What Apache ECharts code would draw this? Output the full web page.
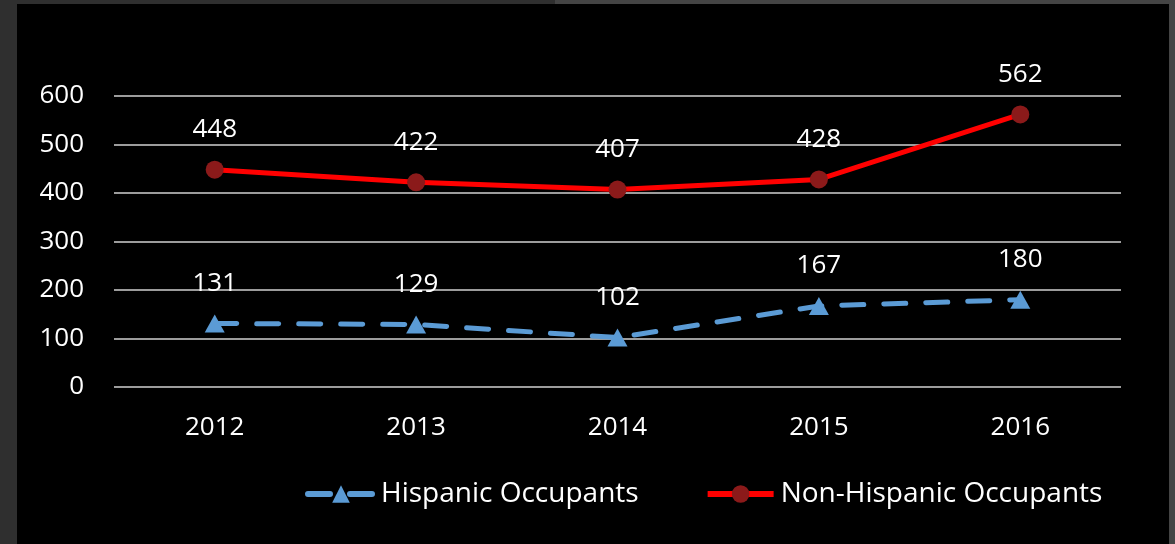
<!DOCTYPE html>
<html><head><meta charset="utf-8">
<script src="https://cdn.jsdelivr.net/npm/echarts@6/dist/echarts.min.js"></script>
<style>html,body{margin:0;padding:0;background:#000;}#c{width:1175px;height:544px;}</style>
</head><body><div id="c"></div>
<script>
const years = ['2012','2013','2014','2015','2016'];
const hispanic = [131,129,102,167,180];
const nonHispanic = [448,422,407,428,562];
const yTicks = {min:0, max:600, interval:100};
const FONT = 'Open Sans';
const FS = 26;
const chart = echarts.init(document.getElementById('c'));
chart.setOption({
  backgroundColor:'#000',
  animation:false,
  textStyle:{fontFamily:FONT},
  graphic:[
    {type:'rect',shape:{x:0,y:0,width:17,height:544},style:{fill:'#2f2f2f'},silent:true},
    {type:'rect',shape:{x:0,y:0,width:555,height:4},style:{fill:'#2f2f2f'},silent:true},
    {type:'rect',shape:{x:555,y:0,width:620,height:4},style:{fill:'#444'},silent:true},
    {type:'rect',shape:{x:1169,y:0,width:6,height:544},style:{fill:'#444'},silent:true}
  ],
  grid:{left:114,right:54,top:96,bottom:157,containLabel:false},
  legend:{
    left:300, top:475, itemWidth:66, itemHeight:22, itemGap:66,
    lineStyle:{width:6},
    textStyle:{color:'#fff',fontSize:28,fontFamily:FONT,padding:[0,0,0,2]},
    data:['Hispanic Occupants','Non-Hispanic Occupants']
  },
  xAxis:{
    type:'category', data:years, boundaryGap:true,
    axisLine:{show:false}, axisTick:{show:false},
    axisLabel:{color:'#fff',fontSize:FS,margin:28,fontFamily:FONT}
  },
  yAxis:{
    type:'value', min:yTicks.min, max:yTicks.max, interval:yTicks.interval,
    axisLine:{show:false}, axisTick:{show:false},
    axisLabel:{color:'#fff',fontSize:FS,margin:30,fontFamily:FONT},
    splitLine:{lineStyle:{color:'#d0d0d0',width:1.5}}
  },
  series:[
    {
      name:'Hispanic Occupants', type:'line', data:hispanic,
      symbol:'triangle', symbolSize:[20,18],
      itemStyle:{color:'#5B9BD5'},
      lineStyle:{color:'#5B9BD5',width:5,type:[22,20],cap:'round'},
      label:{show:true,position:'top',distance:18,color:'#fff',fontSize:FS,fontFamily:FONT}
    },
    {
      name:'Non-Hispanic Occupants', type:'line', data:nonHispanic,
      symbol:'circle', symbolSize:18,
      itemStyle:{color:'#8B1A1A'},
      lineStyle:{color:'#FF0000',width:5},
      label:{show:true,position:'top',distance:18,color:'#fff',fontSize:FS,fontFamily:FONT}
    }
  ]
});
</script></body></html>
